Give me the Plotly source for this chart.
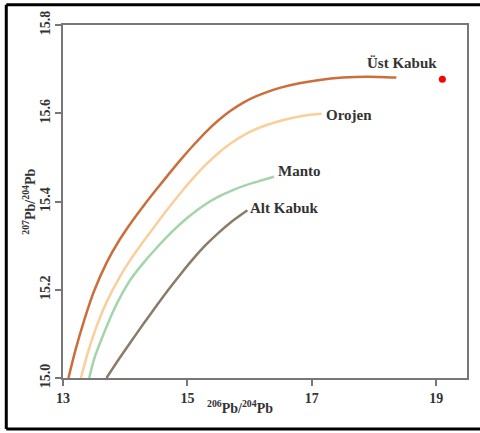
import plotly.graph_objects as go

# Data
ust_x = [13.088, 13.2, 13.35, 13.5, 13.7, 13.9, 14.1, 14.3, 14.5, 14.7, 14.9, 15.1, 15.3,
         15.5, 15.7, 15.9, 16.1, 16.3, 16.5, 16.8, 17.1, 17.5, 17.9, 18.36]
ust_y = [15.000, 15.063, 15.135, 15.197, 15.261, 15.311, 15.353, 15.391, 15.427, 15.462,
         15.496, 15.528, 15.558, 15.584, 15.606, 15.624, 15.638, 15.649, 15.658, 15.668,
         15.675, 15.681, 15.683, 15.681]

orojen_x = [13.288, 13.4, 13.55, 13.7, 13.9, 14.1, 14.3, 14.5, 14.7, 14.9, 15.1, 15.3,
            15.5, 15.7, 15.9, 16.1, 16.4, 16.7, 17.0, 17.16]
orojen_y = [15.000, 15.058, 15.121, 15.172, 15.226, 15.271, 15.311, 15.349, 15.386, 15.421,
            15.454, 15.484, 15.510, 15.532, 15.550, 15.564, 15.579, 15.590, 15.597, 15.599]

manto_x = [13.421, 13.5, 13.6, 13.7, 13.8, 13.95, 14.1, 14.3, 14.5, 14.75, 15.0, 15.25,
           15.5, 15.75, 16.0, 16.2, 16.392]
manto_y = [15.000, 15.043, 15.081, 15.116, 15.149, 15.191, 15.226, 15.262, 15.294, 15.331,
           15.363, 15.390, 15.411, 15.427, 15.440, 15.448, 15.456]

alt_x = [13.699, 13.9, 14.1, 14.3, 14.5, 14.7, 14.9, 15.1, 15.3, 15.5, 15.7, 15.965]
alt_y = [15.000, 15.043, 15.084, 15.124, 15.163, 15.201, 15.237, 15.271, 15.302, 15.329,
         15.353, 15.380]

sample_x = [19.10]
sample_y = [15.677]

series = [
    ("Üst Kabuk", ust_x, ust_y, "#cc6e3c", 17.848, 15.713),
    ("Orojen", orojen_x, orojen_y, "#f9cf9c", 17.192, 15.597),
    ("Manto", manto_x, manto_y, "#a3d5ac", 16.419, 15.469),
    ("Alt Kabuk", alt_x, alt_y, "#8b7b69", 15.981, 15.385),
]

x_ticks = [13, 15, 17, 19]
y_ticks = [15.0, 15.2, 15.4, 15.6, 15.8]

FONT = "Liberation Serif"
TXT = "#333333"

fig = go.Figure()
for name, xs, ys, col, lx, ly in series:
    fig.add_trace(go.Scatter(x=xs, y=ys, mode="lines", name=name,
                             line=dict(color=col, width=2.5, shape="spline", smoothing=0.6),
                             showlegend=False, hoverinfo="skip"))
    fig.add_annotation(x=lx, y=ly, xref="x", yref="y", text=name, showarrow=False,
                       xanchor="left", yanchor="middle",
                       font=dict(family=FONT, size=15, color=TXT, weight="bold"))

fig.add_trace(go.Scatter(x=sample_x, y=sample_y, mode="markers",
                         marker=dict(color="#ff0000", size=7), showlegend=False))

axis_common = dict(showgrid=False, zeroline=False, showline=True, linecolor="#777777",
                   linewidth=1.5, mirror=True, ticks="outside", ticklen=6,
                   tickcolor="#777777", tickwidth=1.5,
                   tickfont=dict(family=FONT, size=14, color=TXT, weight="bold"))

fig.update_xaxes(range=[13, 19.496], tickvals=x_ticks, ticktext=[str(v) for v in x_ticks],
                 **axis_common)
fig.update_yaxes(range=[15.0, 15.8], tickvals=y_ticks, ticktext=[f"{v:.1f}" for v in y_ticks],
                 tickangle=-90, **axis_common)

fig.add_annotation(xref="paper", yref="paper", x=0.4384, y=-0.0815,
                   text="<sup>206</sup>Pb/<sup>204</sup>Pb", showarrow=False,
                   xanchor="center", yanchor="middle",
                   font=dict(family=FONT, size=14, color=TXT, weight="bold"))
fig.add_annotation(xref="paper", yref="paper", x=-0.0862, y=0.5,
                   text="<sup>207</sup>Pb/<sup>204</sup>Pb", showarrow=False,
                   textangle=-90, xanchor="center", yanchor="middle",
                   font=dict(family=FONT, size=14, color=TXT, weight="bold"))

# outer frame: left, top and bottom edges (right edge lies outside the picture)
frame = dict(color="black", width=3)
fig.add_shape(type="line", xref="paper", yref="paper", x0=-0.1404, x1=-0.1404,
              y0=-0.1447, y1=1.0576, line=frame, layer="above")
fig.add_shape(type="line", xref="paper", yref="paper", x0=-0.1404, x1=1.2,
              y0=1.0576, y1=1.0576, line=frame, layer="above")
fig.add_shape(type="line", xref="paper", yref="paper", x0=-0.1404, x1=1.2,
              y0=-0.1447, y1=-0.1447, line=frame, layer="above")

fig.update_layout(width=480, height=433, autosize=False,
                  margin=dict(l=63, r=11, t=22, b=55),
                  paper_bgcolor="white", plot_bgcolor="white")

fig.write_html(
    "out.html", config={"displayModeBar": False},
    post_script=("document.documentElement.style.overflow='hidden';"
                 "document.documentElement.style.margin='0';"
                 "document.body.style.margin='0';document.body.style.padding='0';"
                 "document.body.style.overflow='hidden';"))
